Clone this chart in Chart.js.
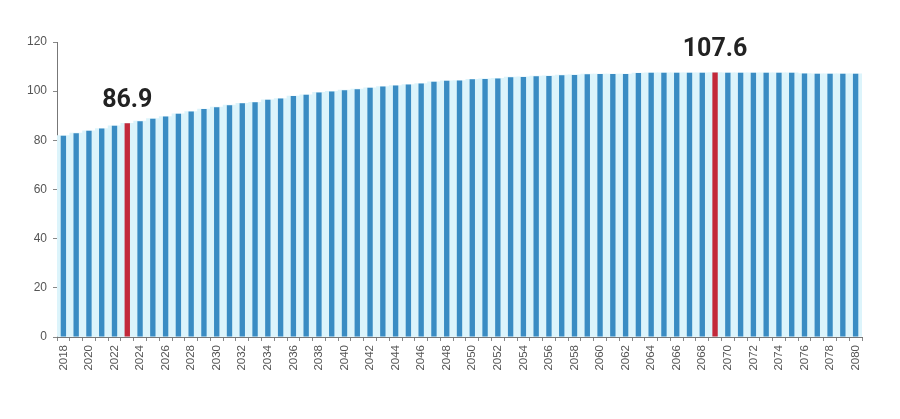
<!DOCTYPE html>
<html>
<head>
<meta charset="utf-8">
<script src="https://cdn.jsdelivr.net/npm/chart.js@4"></script>
<style>
  html, body { margin: 0; padding: 0; background: #ffffff; }
  #wrap { width: 900px; height: 419px; position: relative; }
</style>
</head>
<body>
<div id="wrap"><canvas id="c" width="900" height="419"></canvas></div>
<script>
const years = [];
for (let y = 2018; y <= 2080; y++) years.push(String(y));

const values = [
  81.9, 82.9, 83.9, 84.8, 85.9, 86.9, 87.8, 88.8, 89.7, 90.8,
  91.7, 92.7, 93.5, 94.3, 95.1, 95.5, 96.5, 97.0, 98.0, 98.5,
  99.5, 99.9, 100.4, 100.8, 101.4, 101.9, 102.3, 102.7, 103.1, 103.8,
  104.2, 104.3, 104.8, 105.0, 105.2, 105.7, 105.8, 106.1, 106.2, 106.5,
  106.6, 106.9, 107.0, 107.0, 107.0, 107.4, 107.5, 107.5, 107.5, 107.5,
  107.5, 107.6, 107.5, 107.5, 107.5, 107.5, 107.5, 107.5, 107.2, 107.1,
  107.1, 107.1, 107.1
];

const highlightYears = ["2023", "2069"];
const highlightLabels = ["86.9", "107.6"];
const yTicks = [0, 20, 40, 60, 80, 100, 120];

const blue = '#3a8cc3';
const red = '#c3293a';
const barColors = years.map(y => highlightYears.includes(y) ? red : blue);

const labelPlugin = {
  id: 'peakLabels',
  afterDatasetsDraw(chart) {
    const meta = chart.getDatasetMeta(1);
    const ctx = chart.ctx;
    ctx.save();
    ctx.font = 'bold 25px Roboto, "Liberation Sans", sans-serif';
    ctx.fillStyle = '#222222';
    ctx.textAlign = 'center';
    ctx.textBaseline = 'alphabetic';
    highlightYears.forEach((yr, i) => {
      const idx = years.indexOf(yr);
      const el = meta.data[idx];
      ctx.fillText(highlightLabels[i], el.x, el.y - 16);
    });
    ctx.restore();
  }
};

new Chart(document.getElementById('c'), {
  type: 'bar',
  data: {
    labels: years,
    datasets: [
      {
        data: values,
        backgroundColor: '#dcf4fb',
        barPercentage: 1.0,
        categoryPercentage: 1.0,
        grouped: false,
        order: 2
      },
      {
        data: values,
        backgroundColor: barColors,
        barPercentage: 0.42,
        categoryPercentage: 1.0,
        grouped: false,
        order: 1
      }
    ]
  },
  options: {
    responsive: false,
    animation: false,
    events: [],
    layout: { padding: { top: 42, right: 38, left: 0, bottom: 0 } },
    plugins: { legend: { display: false }, tooltip: { enabled: false } },
    scales: {
      x: {
        offset: true,
        grid: { display: true, drawOnChartArea: false, drawTicks: true, tickLength: 4, color: '#888888', offset: true },
        border: { display: true, color: '#777777', width: 1 },
        ticks: {
          autoSkip: false,
          maxRotation: 90,
          minRotation: 90,
          color: '#555555',
          font: { family: '"Liberation Sans", Arial, sans-serif', size: 11.5 },
          padding: 4,
          callback: function(v, i) { return i % 2 === 0 ? years[i] : ''; }
        },
        afterFit(scale) { scale.height = 82; }
      },
      y: {
        min: 0,
        max: 120,
        afterBuildTicks(scale) { scale.ticks = yTicks.map(v => ({ value: v })); },
        grid: { display: true, drawOnChartArea: false, drawTicks: true, tickLength: 4, color: '#888888' },
        border: { display: true, color: '#777777', width: 1 },
        ticks: {
          color: '#555555',
          font: { family: '"Liberation Sans", Arial, sans-serif', size: 12 },
          padding: 6
        },
        afterFit(scale) { scale.width = 57; }
      }
    }
  },
  plugins: [labelPlugin]
});
</script>
</body>
</html>
